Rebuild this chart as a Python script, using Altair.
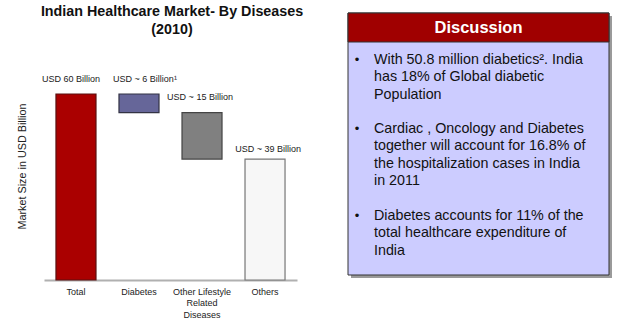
import altair as alt
import pandas as pd

categories = ["Total", "Diabetes", "Other Lifestyle|Related|Diseases", "Others"]
starts = [0, 54, 39, 0]
ends = [60, 60, 54, 39]
value_labels = ["USD 60 Billion", "USD ~ 6  Billion\u00b9", "USD ~ 15 Billion", "USD ~ 39 Billion"]
label_dx = [-5, 6, -2, 3]
label_dy = [-15, -15, -16, -10]
bar_colors = ["#aa0000", "#666699", "#808080", "#f7f7f7"]
bar_strokes = ["#5a1010", "#333344", "#444444", "#777777"]

chart_title = ["Indian Healthcare Market- By Diseases", "(2010)"]
panel_title = "Discussion"
bullets = [
    ["With 50.8 million diabetics\u00b2. India", "has 18% of Global diabetic", "Population"],
    ["Cardiac , Oncology and Diabetes", "together will account for 16.8% of", "the hospitalization cases in India", "in 2011"],
    ["Diabetes accounts for 11% of the", "total healthcare expenditure of", "India"],
]

df = pd.DataFrame({
    "cat": categories,
    "start": starts,
    "end": ends,
    "label": value_labels,
    "color": bar_colors,
    "stroke": bar_strokes,
})

FONT = "Liberation Sans"
ox, oy = 44, 94

xenc = alt.X("cat:N", sort=categories,
             scale=alt.Scale(paddingInner=0.365, paddingOuter=0.19),
             axis=alt.Axis(title=None, labelAngle=0, ticks=False, domainColor="#b0b0b0",
                           domainWidth=2, labelFontSize=9, labelColor="#222222",
                           labelFont=FONT, labelPadding=7, labelLineHeight=11.5,
                           labelExpr="split(datum.label, '|')"))
yenc = alt.Y("start:Q", scale=alt.Scale(domain=[0, 60], nice=False),
             axis=alt.Axis(title="Market Size in USD Billion", labels=False, ticks=False,
                           domain=False, grid=False, titleFontSize=10.8,
                           titleFont=FONT, titleFontWeight="normal", titleColor="#222222",
                           titlePadding=17, titleY=166 - oy))

bars = alt.Chart(df).mark_bar(strokeWidth=1.2).encode(
    x=xenc, y=yenc, y2="end:Q",
    color=alt.Color("color:N", scale=None),
    stroke=alt.Stroke("stroke:N", scale=None),
)

label_layers = []
for i, cat in enumerate(categories):
    label_layers.append(
        alt.Chart(df).transform_filter(alt.datum.cat == cat).mark_text(
            fontSize=9, font=FONT, color="#1a1a1a", dx=label_dx[i], dy=label_dy[i]
        ).encode(
            x=alt.X("cat:N", sort=categories),
            y=alt.Y("end:Q"),
            text="label:N",
        )
    )

# Positions below are relative to the plot origin at (44, 94)
pL, pR, pT, pB, pH = 348 - ox, 609 - ox, 13 - oy, 275 - oy, 42 - oy
panel_df = pd.DataFrame({"a": [0]})

title_text = alt.Chart(panel_df).mark_text(
    text=chart_title, fontSize=14.3, fontWeight="bold", font=FONT, color="#111111",
    align="center", baseline="middle", lineHeight=18).encode(
    x=alt.value(172 - ox), y=alt.value(12 - oy))

shadow = alt.Chart(panel_df).mark_rect(color="#9a9a9a").encode(
    x=alt.value(pL + 3), x2=alt.value(pR + 3), y=alt.value(pT + 3), y2=alt.value(pB + 3))
body = alt.Chart(panel_df).mark_rect(color="#ccccff", stroke="#333333", strokeWidth=1).encode(
    x=alt.value(pL), x2=alt.value(pR), y=alt.value(pT), y2=alt.value(pB))
header = alt.Chart(panel_df).mark_rect(color="#a00000", stroke="#333333", strokeWidth=1).encode(
    x=alt.value(pL), x2=alt.value(pR), y=alt.value(pT), y2=alt.value(pH))
header_text = alt.Chart(panel_df).mark_text(
    text=panel_title, fontSize=16.5, fontWeight="bold", font=FONT, color="white",
    align="center", baseline="middle").encode(
    x=alt.value((pL + pR) / 2), y=alt.value(28 - oy))

bullet_tops = [60, 129, 216]
text_layers = []
for lines, top in zip(bullets, bullet_tops):
    text_layers.append(alt.Chart(panel_df).mark_text(
        text=lines, fontSize=14.3, font=FONT, color="#111111", align="left",
        baseline="middle", lineHeight=17.3).encode(
        x=alt.value(374 - ox), y=alt.value(top - oy)))
    text_layers.append(alt.Chart(panel_df).mark_text(
        text="\u2022", fontSize=13, font=FONT, color="#111111", align="center",
        baseline="middle").encode(
        x=alt.value(357 - ox), y=alt.value(top - oy)))

chart = alt.layer(bars, *label_layers, title_text, shadow, body, header, header_text,
                  *text_layers).properties(
    width=253, height=186,
    background="white",
    autosize=alt.AutoSizeParams(type="none"),
    padding={"left": ox, "top": oy, "right": 627 - 297, "bottom": 331 - 280},
).configure_view(strokeWidth=0, stroke="transparent")

chart.save("out.html", embed_options={"renderer": "svg", "actions": False})
